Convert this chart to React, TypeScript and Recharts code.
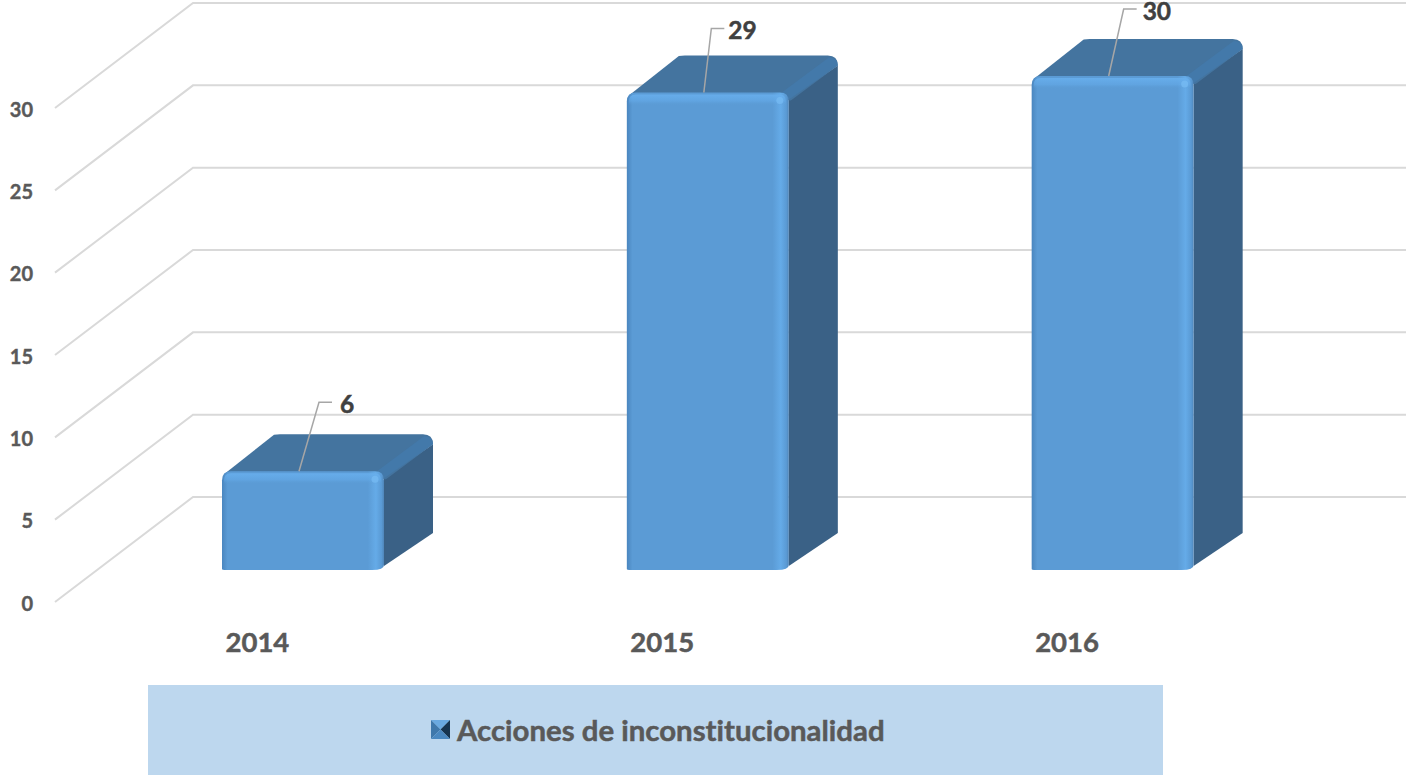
import React from "react";
import { BarChart, Bar, XAxis, YAxis, Legend, LabelList, CartesianGrid } from "recharts";

const years = ["2014", "2015", "2016"];
const acciones = [6, 29, 30];
const yTicks = [0, 5, 10, 15, 20, 25, 30];
const seriesName = "Acciones de inconstitucionalidad";
const rows = years.map((year, i) => ({ year, acciones: acciones[i] }));

const FONT = "Lato, 'Open Sans', sans-serif";
const SHIFT_X = 46;
const SHIFT_Y = -32;
const DEPTH_X = 49;
const DEPTH_Y = -37;
const WALL_X = 138;
const WALL_Y = -105;
const PLOT_LEFT = 55;
const WALL_RIGHT = 1406;
const leaderRun = [20, 7.5, 15];
const leaderRise = [69, 64, 67];
const textGap = [8, 4, 6];

function WallLine(props: any) {
  const y = props.y1;
  return (
    <polyline
      key={props.key ?? y}
      points={`${PLOT_LEFT},${y} ${PLOT_LEFT + WALL_X},${y + WALL_Y} ${WALL_RIGHT},${y + WALL_Y}`}
      fill="none"
      stroke="#d9d9d9"
      strokeWidth={2}
    />
  );
}

function WallTick(props: any) {
  const { y, payload } = props;
  return (
    <text x={33} y={y + 0.5} textAnchor="end" dominantBaseline="central" fontFamily={FONT} fontWeight={700} fontSize={20} fill="#595959" stroke="#595959" strokeWidth={0.4}>
      {payload.value}
    </text>
  );
}

function YearTick(props: any) {
  const { x, payload } = props;
  return (
    <text x={x} y={641.5} textAnchor="middle" dominantBaseline="central" fontFamily={FONT} fontWeight={700} fontSize={27.5} fill="#595959" stroke="#595959" strokeWidth={0.5}>
      {payload.value}
    </text>
  );
}

function Bar3D(props: any) {
  const { x, y, width, height } = props;
  const L = x + SHIFT_X;
  const R = L + width;
  const T = y + SHIFT_Y;
  const B = T + height;
  const dx = DEPTH_X;
  const dy = DEPTH_Y;
  const r = 9;
  const side = `M${R},${T + 7} L${R + dx},${T + dy + 10} L${R + dx},${B + dy} L${R},${B - 4} Z`;
  const top = `M${L + 2},${T + 3} L${L + dx + 3},${T + dy + 0.5} Q${L + dx + 6},${T + dy} ${L + dx + 9},${T + dy} L${R + dx - 10},${T + dy} Q${R + dx},${T + dy} ${R + dx},${T + dy + 10} L${R + 2},${T + 8} Z`;
  const bevel = `M${R - 7},${T} L${R + dx - 9},${T + dy + 2} Q${R + dx},${T + dy + 2} ${R + dx},${T + dy + 10} L${R},${T + 7} Z`;
  const front = `M${L},${T + r} Q${L},${T} ${L + r},${T} L${R - r},${T} Q${R},${T} ${R},${T + r} L${R},${B - 5} Q${R},${B} ${R - 12},${B} L${L + 4},${B} Q${L},${B} ${L},${B - 1} Z`;
  const band = `M${L + 2},${T + 9} Q${L + 2},${T + 2} ${L + 9},${T + 2} L${R - 9},${T + 2} Q${R - 3},${T + 2} ${R - 3},${T + 9} L${R - 3},${T + 13} L${L + 2},${T + 13} Z`;
  return (
    <g>
      <path d={side} fill="#3a6186" />
      <path d={top} fill="#44749f" />
      <path d={bevel} fill="#4379aa" />
      <path d={front} fill="url(#frontFace)" />
      <path d={band} fill="url(#frontTop)" />
      <circle cx={R - 9} cy={T + 8} r={3.5} fill="#78bcf4" opacity={0.7} />
    </g>
  );
}

function ValueLabel(props: any) {
  const { x, y, width, value, index } = props;
  const cx = x + SHIFT_X + width / 2 - 4;
  const top = y + SHIFT_Y;
  const elbowX = cx + leaderRun[index];
  const elbowY = top - leaderRise[index];
  return (
    <g>
      <polyline points={`${cx},${top} ${elbowX},${elbowY} ${elbowX + 13},${elbowY}`} fill="none" stroke="#a6a6a6" strokeWidth={1.5} />
      <text x={elbowX + 13 + textGap[index]} y={elbowY + 1.5} dominantBaseline="central" fontFamily={FONT} fontWeight={700} fontSize={24.5} fill="#404040" stroke="#404040" strokeWidth={0.5}>
        {value}
      </text>
    </g>
  );
}

function LegendBox() {
  return (
    <div
      style={{
        width: 1015,
        height: 90,
        background: "#bdd7ee",
        position: "relative",
        fontFamily: FONT,
        fontWeight: 700,
        fontSize: 29.4,
        fontVariantLigatures: "none",
        color: "#595959",
        WebkitTextStroke: "0.5px #595959",
      }}
    >
      <svg width={20} height={20} style={{ position: "absolute", left: 283, top: 35 }}>
        <polygon points="0,0 19,0 9.5,9.5" fill="#6aa9e0" />
        <polygon points="0,0 9.5,9.5 0,19" fill="#3f78ab" />
        <polygon points="19,0 19,19 9.5,9.5" fill="#16344f" />
        <polygon points="0,19 19,19 9.5,9.5" fill="#4a88c0" />
      </svg>
      <span style={{ position: "absolute", left: 309, top: 44, transform: "translateY(-50%)", whiteSpace: "nowrap" }}>
        {seriesName}
      </span>
    </div>
  );
}

export default function App() {
  return (
    <div style={{ position: "absolute", left: 0, top: 0, width: 1409, height: 778, background: "#ffffff", overflow: "hidden" }}>
      <BarChart width={1409} height={778} data={rows} margin={{ top: 108, right: 139.5, left: 0, bottom: 0 }} barSize={162}>
        <defs>
          <linearGradient id="frontFace" x1="0" y1="0" x2="1" y2="0">
            <stop offset="0" stopColor="#4a86bf" />
            <stop offset="0.035" stopColor="#5b9bd5" />
            <stop offset="0.9" stopColor="#5b9bd5" />
            <stop offset="0.95" stopColor="#65abe8" />
            <stop offset="0.985" stopColor="#5a9ad4" />
            <stop offset="1" stopColor="#4f85b8" />
          </linearGradient>
          <linearGradient id="frontTop" x1="0" y1="0" x2="0" y2="1">
            <stop offset="0" stopColor="#69b0ee" stopOpacity={0.85} />
            <stop offset="0.6" stopColor="#66adec" stopOpacity={0.5} />
            <stop offset="1" stopColor="#5b9bd5" stopOpacity={0} />
          </linearGradient>
        </defs>
        <CartesianGrid vertical={false} horizontal={WallLine} horizontalValues={yTicks} />
        <YAxis width={55} domain={[0, 30]} ticks={yTicks} tick={WallTick} axisLine={false} tickLine={false} interval={0} />
        <XAxis dataKey="year" height={83} tick={YearTick} axisLine={false} tickLine={false} interval={0} />
        <Legend content={LegendBox} height={93} verticalAlign="bottom" wrapperStyle={{ left: 148, width: 1015 }} />
        <Bar dataKey="acciones" name={seriesName} shape={Bar3D} isAnimationActive={false}>
          <LabelList dataKey="acciones" content={ValueLabel} />
        </Bar>
      </BarChart>
    </div>
  );
}
